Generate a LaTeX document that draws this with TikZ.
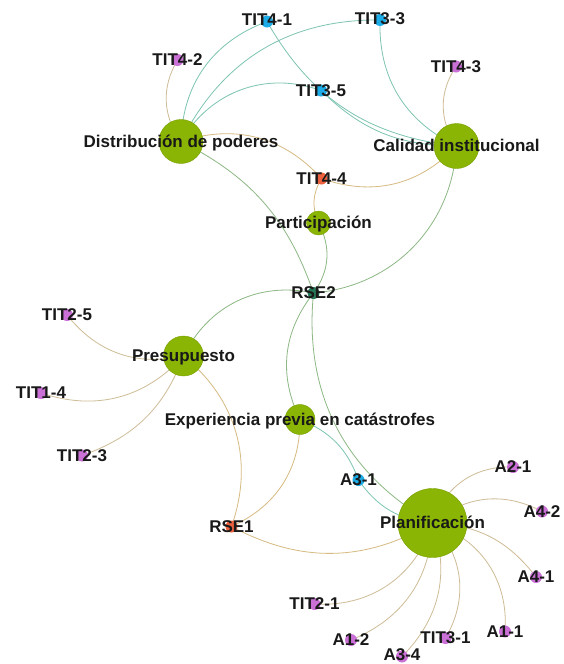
\documentclass[tikz,border=0pt]{standalone}
\usepackage{fontspec}
\setmainfont{Liberation Sans}
\definecolor{hubgreen}{RGB}{138,181,4}
\definecolor{hubdark}{RGB}{120,160,0}
\definecolor{dotblue}{RGB}{28,172,232}
\definecolor{dotpurple}{RGB}{202,112,214}
\definecolor{dotred}{RGB}{236,96,62}
\definecolor{dotteal}{RGB}{38,118,88}
\definecolor{eteal}{RGB}{125,196,178}
\definecolor{etan}{RGB}{206,188,150}
\definecolor{eora}{RGB}{214,186,130}
\definecolor{egrn}{RGB}{140,184,132}
\definecolor{lbltext}{RGB}{25,25,25}
\pgfdeclarelayer{edges}
\pgfsetlayers{edges,main}
\begin{document}
\begin{tikzpicture}[x=1pt,y=1pt,
  hub/.style={circle,fill=hubgreen,draw=hubdark,line width=0.4pt,inner sep=0pt},
  dot/.style={circle,inner sep=0pt,minimum size=12pt},
  bluedot/.style={dot,fill=dotblue},
  purpdot/.style={dot,fill=dotpurple},
  reddot/.style={dot,fill=dotred},
  tealdot/.style={dot,fill=dotteal},
  lbl/.style={anchor=base,yshift=-5.8pt,inner sep=0pt,text=lbltext,font=\bfseries\fontsize{17}{17}\selectfont},
  et/.style={draw=eteal,line width=0.8pt},
  en/.style={draw=etan,line width=0.8pt},
  eo/.style={draw=eora,line width=0.8pt},
  eg/.style={draw=egrn,line width=0.8pt}]
\useasboundingbox (0,0) rectangle (564,-664);

% hub nodes
\node[hub,minimum size=44pt] (dist) at (181,-141.5) {};
\node[hub,minimum size=45pt] (cal)  at (456.5,-146) {};
\node[hub,minimum size=24pt] (part) at (318.5,-223) {};
\node[hub,minimum size=40pt] (pres) at (183.5,-356) {};
\node[hub,minimum size=30pt] (exp)  at (300,-419.5) {};
\node[hub,minimum size=69pt] (plan) at (432.5,-523) {};

% small nodes
\node[bluedot] (t41) at (267,-21.5) {};
\node[purpdot] (t42) at (177.5,-60) {};
\node[bluedot] (t33) at (380,-20) {};
\node[purpdot] (t43) at (456,-66.5) {};
\node[bluedot] (t35) at (321,-90.5) {};
\node[reddot]  (t44) at (321.5,-178.5) {};
\node[tealdot] (rse2) at (313.5,-293) {};
\node[purpdot] (t25) at (67,-315) {};
\node[purpdot] (t14) at (41,-393) {};
\node[purpdot] (t23) at (82,-455.5) {};
\node[bluedot] (a31) at (358.5,-480) {};
\node[reddot]  (rse1) at (231.5,-526.5) {};
\node[purpdot] (a21) at (513,-467) {};
\node[purpdot] (a42) at (542,-511.5) {};
\node[purpdot] (a41) at (536,-577) {};
\node[purpdot] (a11) at (505,-631.5) {};
\node[purpdot] (t31) at (445.5,-638) {};
\node[purpdot] (a34) at (402,-656.5) {};
\node[purpdot] (a12) at (351,-640) {};
\node[purpdot] (t21) at (314.5,-604) {};

% edges
\begin{pgfonlayer}{edges}
\fill[white] (0,0) rectangle (564,-664);
\path[et] (dist.center) to[bend left=34] (t41.center);
\path[et] (dist.center) to[bend left=32] (t33.center);
\path[et] (dist.center) to[bend left=40] (t35.center);
\path[et] (t41.center) to[bend right=27] (cal.center);
\path[et] (t35.center) to[bend right=22] (cal.center);
\path[et] (t33.center) to[bend right=33] (cal.center);
\path[en] (t42.center) to[bend right=33] (dist.center);
\path[en] (t43.center) to[bend right=34] (cal.center);
\path[eo] (dist.center) to[bend left=33] (t44.center);
\path[eo] (t44.center) to[bend right=33] (cal.center);
\path[eo] (t44.center) to[bend right=27] (part.center);
\path[eg] (part.center) to[bend left=32] (rse2.center);
\path[eg] (dist.center) to[bend left=22] (rse2.center);
\path[eg] (cal.center) to[bend left=41] (rse2.center);
\path[eg] (pres.center) to[bend left=38] (rse2.center);
\path[eg] (rse2.center) to[bend right=32] (exp.center);
\path[eg] (rse2.center) to[bend right=33] (plan.center);
\path[et] (exp.center) to[bend left=24] (a31.center);
\path[et] (a31.center) to[bend right=25] (plan.center);
\path[en] (t25.center) to[bend right=32] (pres.center);
\path[en] (t14.center) to[bend right=33] (pres.center);
\path[en] (t23.center) to[bend right=25] (pres.center);
\path[eo] (pres.center) to[bend left=35] (rse1.center);
\path[eo] (exp.center) to[bend left=33] (rse1.center);
\path[eo] (rse1.center) to[bend right=29] (plan.center);
\path[en] (plan.center) to[bend left=37] (a21.center);
\path[en] (plan.center) to[bend left=34] (a42.center);
\path[en] (plan.center) to[bend left=25] (a41.center);
\path[en] (plan.center) to[bend left=38] (a11.center);
\path[en] (plan.center) to[bend left=37] (t31.center);
\path[en] (plan.center) to[bend left=32] (a34.center);
\path[en] (plan.center) to[bend left=33] (a12.center);
\path[en] (plan.center) to[bend left=38] (t21.center);
\end{pgfonlayer}

% labels
\node[lbl] (l-dist) at (dist) {Distribución de poderes};
\node[lbl] (l-cal) at (cal) {Calidad institucional};
\node[lbl] (l-part) at (part) {Participación};
\node[lbl] (l-pres) at (pres) {Presupuesto};
\node[lbl] (l-exp) at (exp) {Experiencia previa en catástrofes};
\node[lbl] (l-plan) at (plan) {Planificación};
\node[lbl] (l-t41) at ([yshift=2pt]t41.center) {TIT4-1};
\node[lbl] (l-t42) at (t42) {TIT4-2};
\node[lbl] (l-t33) at ([yshift=1pt]t33.center) {TIT3-3};
\node[lbl] (l-t43) at (t43) {TIT4-3};
\node[lbl] (l-t35) at (t35) {TIT3-5};
\node[lbl] (l-t44) at (t44) {TIT4-4};
\node[lbl] (l-rse2) at (rse2) {RSE2};
\node[lbl] (l-t25) at (t25) {TIT2-5};
\node[lbl] (l-t14) at (t14) {TIT1-4};
\node[lbl] (l-t23) at (t23) {TIT2-3};
\node[lbl] (l-a31) at (a31) {A3-1};
\node[lbl] (l-rse1) at (rse1) {RSE1};
\node[lbl] (l-a21) at (a21) {A2-1};
\node[lbl] (l-a42) at (a42) {A4-2};
\node[lbl] (l-a41) at (a41) {A4-1};
\node[lbl] (l-a11) at (a11) {A1-1};
\node[lbl] (l-t31) at (t31) {TIT3-1};
\node[lbl] (l-a34) at ([yshift=2pt]a34.center) {A3-4};
\node[lbl] (l-a12) at (a12) {A1-2};
\node[lbl] (l-t21) at (t21) {TIT2-1};
\end{tikzpicture}
\end{document}
